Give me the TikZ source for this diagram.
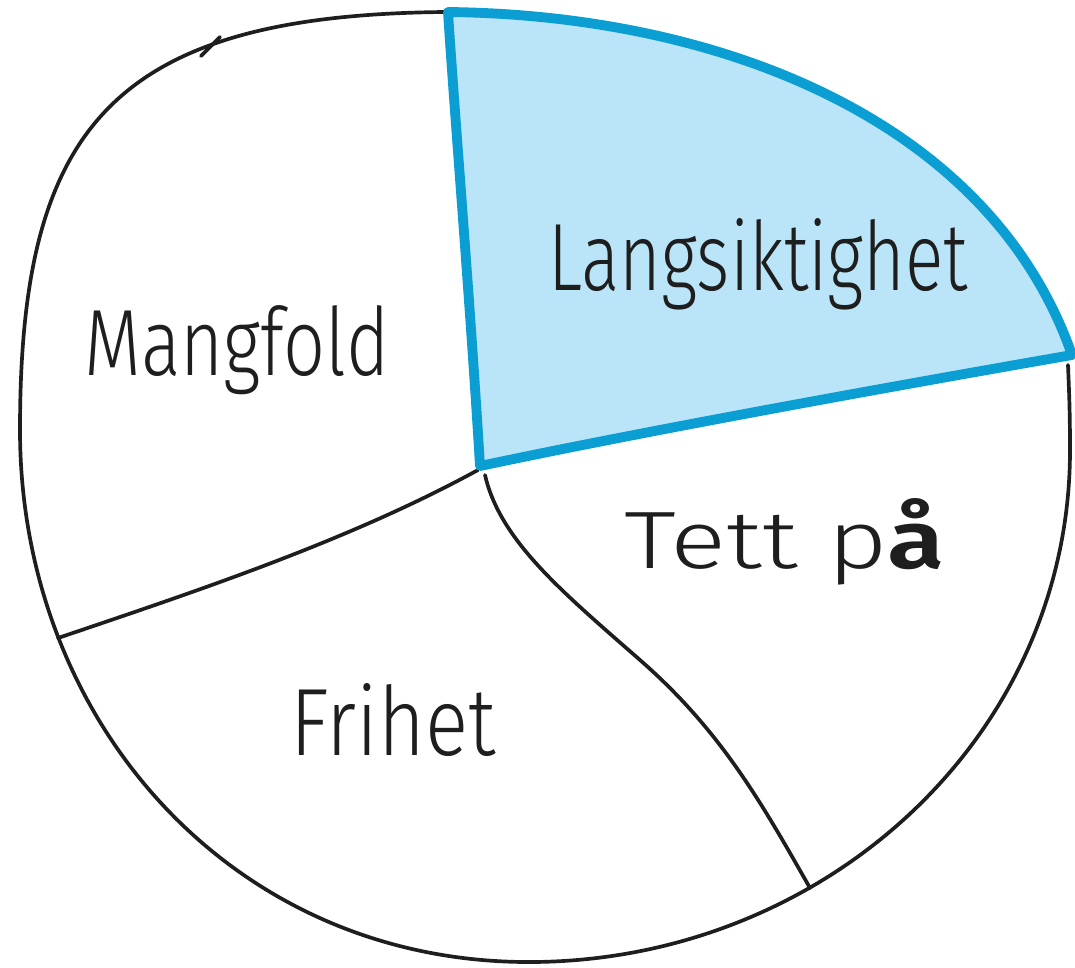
\documentclass[tikz,border=0pt]{standalone}
\usepackage{graphicx}
\usepackage{fontspec}
\setmainfont{Fira Sans}[UprightFont={* Light},BoldFont={* SemiBold}]
\definecolor{slicefill}{HTML}{BAE4F8}
\definecolor{slicedraw}{HTML}{0A9ED2}
\definecolor{ink}{HTML}{1E1E1E}
\begin{document}
\begin{tikzpicture}[x=0.02cm,y=-0.02cm,
  pen/.style={draw=ink,line width=2.1pt,line cap=round,line join=round},
  bluepen/.style={draw=slicedraw,line width=5.6pt,line join=round},
  lbl/.style={anchor=base,inner sep=0pt,text=ink}]
\useasboundingbox (0,0) rectangle (1075,967);
% highlighted slice fill
\fill[slicefill] (480,466) .. controls (470,300) and (455,120) .. (448,12)
  .. controls (720,15) and (990,120) .. (1072,355)
  .. controls (900,385) and (650,430) .. cycle;
% outer outline
\draw[pen] (445,12) .. controls (110,15) and (20,130) .. (20,430)
  .. controls (20,720) and (230,960) .. (525,962)
  .. controls (820,964) and (1070,740) .. (1070,450)
  .. controls (1070,410) and (1069,390) .. (1068,365);
\draw[pen] (220,37) -- (201,56);
% dividers
\draw[pen] (478,470) .. controls (350,540) and (200,590) .. (58,638);
\draw[pen] (485,475) .. controls (500,540) and (560,590) .. (640,660)
  .. controls (720,730) and (760,800) .. (810,888);
% slice outline
\draw[bluepen] (480,466) .. controls (470,300) and (455,120) .. (448,12)
  .. controls (720,15) and (990,120) .. (1072,355)
  .. controls (900,385) and (650,430) .. cycle;
% labels
\node[lbl] (mangfold) at (237,375) {\resizebox{6.1cm}{1.4cm}{Mangfold}};
\node[lbl] (langsiktighet) at (758,290) {\resizebox{8.4cm}{1.44cm}{Langsiktighet}};
\node[lbl] (tettpa) at (785,568) {\resizebox{6.4cm}{1.4cm}{Tett p{\bfseries å}}};
\node[lbl] (frihet) at (393,755) {\resizebox{4.1cm}{1.44cm}{Frihet}};
\end{tikzpicture}
\end{document}
